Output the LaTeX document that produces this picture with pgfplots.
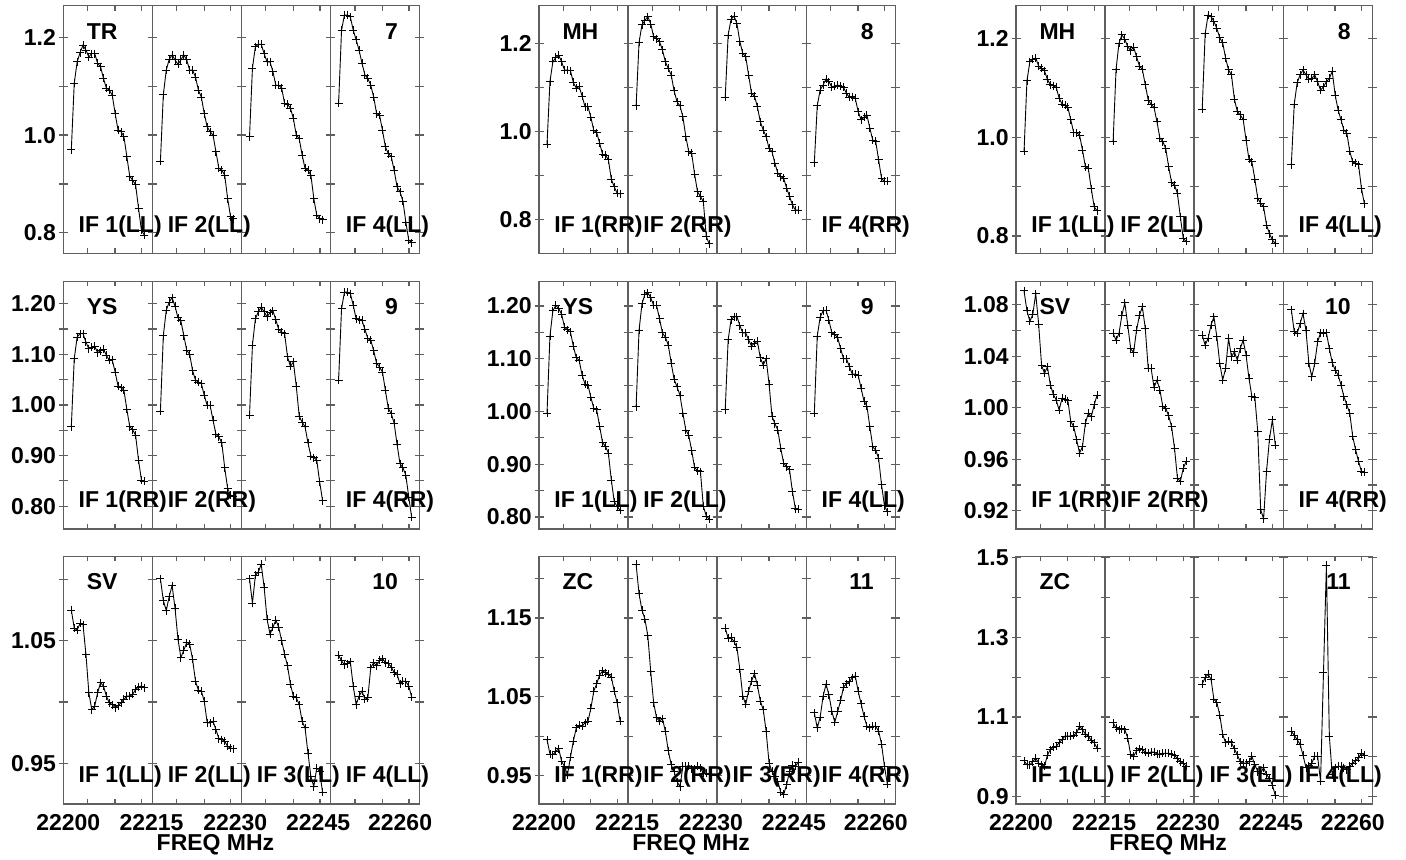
\documentclass[border=0pt]{standalone}
\usepackage{fontspec}
\setmainfont{Liberation Sans}
\usepackage{pgfplots}
\pgfplotsset{compat=1.18}
\definecolor{framec}{RGB}{95,95,95}
\newcommand\ff{\fontsize{11.5}{13}\selectfont\bfseries}
\newcommand\IF[2]{\addplot[black,line width=0.45pt,mark=+,mark size=2pt,mark options={line width=0.45pt}] table[header=false,row sep=\\,x expr={#1+0.09+0.0328*\coordindex},y index=0]{#2};}
\newcommand\frameticks[1]{%
 \draw[framec,line width=0.75pt] (rel axis cs:0.25,0) -- (rel axis cs:0.25,1) (rel axis cs:0.5,0) -- (rel axis cs:0.5,1) (rel axis cs:0.75,0) -- (rel axis cs:0.75,1);
 \pgfplotsforeachungrouped \yy in {#1}{%
  \pgfplotsforeachungrouped \xx in {0,1,2,3,4}{%
   \edef\tmp{\noexpand\draw[framec,line width=0.6pt] (axis cs:\xx,\yy) ++(-2.25pt,0pt) -- ++(4.5pt,0pt);}\tmp}}%
 \pgfplotsforeachungrouped \xx in {0.06825,0.14525,0.22,0.31825,0.39525,0.47,0.56825,0.64525,0.72,0.81825,0.89525,0.97}{%
   \edef\tmp{\noexpand\draw[framec,line width=0.6pt] (rel axis cs:\xx,0) -- ++(0pt,2.5pt) (rel axis cs:\xx,1) -- ++(0pt,-2.5pt);}\tmp}}
\newcommand\labs[3]{%
 \node[font=\ff,anchor=base west,inner sep=0pt] at (axis description cs:0.065,0.865) {#1};
 \node[font=\ff,anchor=base east,inner sep=0pt] at (axis description cs:0.94,0.865) {#2};
 \node[font=\ff,anchor=base west,inner sep=0pt] at (axis description cs:0.042,0.085) {IF 1(#3)};
 \node[font=\ff,anchor=base west,inner sep=0pt] at (axis description cs:0.292,0.085) {IF 2(#3)};
 \node[font=\ff,anchor=base west,inner sep=0pt] at (axis description cs:0.792,0.085) {IF 4(#3)};}
\newcommand\labthree[1]{\node[font=\ff,anchor=base west,inner sep=0pt] at (axis description cs:0.542,0.085) {IF 3(#1)};}
\newcommand\freq{\node[font=\ff,anchor=north,inner sep=0pt] at (axis description cs:0.427,0) [yshift=-15pt] {FREQ MHz};}
\pgfplotsset{panel/.style={scale only axis,width=178.2pt,height=123.8pt,xmin=0,xmax=4,anchor=south west,
  axis line style={framec,line width=0.75pt},tick style={draw=none},xtick=\empty,clip=false,
  tick label style={font=\ff},yticklabel style={anchor=east,inner sep=0pt,xshift=-3.5pt},
  xticklabel style={anchor=north,inner sep=0pt,yshift=-5pt}},
 bottom/.style={extra x ticks={0.056,0.99,1.93,2.86,3.78},extra x tick labels={22200,22215,22230,22245,22260}}}
\begin{document}
\begin{tikzpicture}
\useasboundingbox (0,0) rectangle (703pt,430pt);
% ---------------- Row 1 ----------------
\begin{axis}[panel,at={(31.65pt,303.35pt)},ymin=0.758,ymax=1.265,ytick={0.8,0.9,1.0,1.1,1.2},yticklabels={0.8,,1.0,,1.2}]
\IF{0}{0.97\\1.106\\1.15\\1.169\\1.184\\1.174\\1.16\\1.167\\1.167\\1.147\\1.14\\1.116\\1.096\\1.092\\1.082\\1.044\\1.01\\1.007\\0.997\\0.956\\0.915\\0.908\\0.898\\0.85\\0.805\\0.795\\}
\IF{1}{0.947\\1.083\\1.133\\1.155\\1.164\\1.154\\1.145\\1.154\\1.164\\1.154\\1.133\\1.133\\1.119\\1.092\\1.078\\1.044\\1.017\\1.007\\1.0\\0.966\\0.932\\0.928\\0.918\\0.87\\0.833\\0.829\\}
\IF{2}{0.997\\1.137\\1.181\\1.186\\1.186\\1.167\\1.15\\1.15\\1.13\\1.102\\1.102\\1.096\\1.065\\1.063\\1.055\\1.034\\1.0\\0.993\\0.959\\0.932\\0.928\\0.918\\0.87\\0.836\\0.829\\0.827\\}
\IF{3}{1.065\\1.215\\1.246\\1.246\\1.242\\1.215\\1.195\\1.174\\1.147\\1.123\\1.116\\1.102\\1.078\\1.044\\1.041\\1.01\\0.976\\0.962\\0.956\\0.928\\0.894\\0.884\\0.865\\0.822\\0.785\\0.78\\}
\frameticks{0.8,0.9,1.0,1.1,1.2}
\labs{TR}{7}{LL}
\end{axis}
\begin{axis}[panel,at={(269.5pt,303.35pt)},ymin=0.7227,ymax=1.2856,ytick={0.8,0.9,1.0,1.1,1.2},yticklabels={0.8,,1.0,,1.2}]
\IF{0}{0.971\\1.113\\1.158\\1.168\\1.173\\1.158\\1.139\\1.139\\1.138\\1.111\\1.098\\1.102\\1.08\\1.056\\1.056\\1.032\\1.002\\0.997\\0.973\\0.948\\0.946\\0.935\\0.891\\0.874\\0.859\\0.858\\}
\IF{1}{1.058\\1.202\\1.242\\1.252\\1.261\\1.244\\1.215\\1.211\\1.204\\1.185\\1.158\\1.143\\1.128\\1.092\\1.067\\1.058\\1.033\\0.988\\0.954\\0.95\\0.903\\0.863\\0.852\\0.84\\0.761\\0.744\\}
\IF{2}{1.077\\1.219\\1.255\\1.262\\1.245\\1.204\\1.177\\1.17\\1.128\\1.086\\1.08\\1.056\\1.022\\1.003\\0.988\\0.961\\0.954\\0.927\\0.905\\0.897\\0.893\\0.871\\0.852\\0.833\\0.821\\0.821\\}
\IF{3}{0.929\\1.058\\1.094\\1.105\\1.119\\1.113\\1.1\\1.103\\1.105\\1.103\\1.1\\1.086\\1.077\\1.079\\1.075\\1.045\\1.026\\1.032\\1.037\\1.007\\0.98\\0.977\\0.935\\0.893\\0.886\\0.886\\}
\frameticks{0.8,0.9,1.0,1.1,1.2}
\labs{MH}{8}{RR}
\end{axis}
\begin{axis}[panel,at={(508pt,303.35pt)},ymin=0.765,ymax=1.266,ytick={0.8,0.9,1.0,1.1,1.2},yticklabels={0.8,,1.0,,1.2}]
\IF{0}{0.971\\1.114\\1.153\\1.158\\1.16\\1.144\\1.139\\1.134\\1.117\\1.106\\1.104\\1.101\\1.079\\1.067\\1.065\\1.06\\1.035\\1.009\\1.009\\1.004\\0.974\\0.94\\0.937\\0.896\\0.859\\0.851\\}
\IF{1}{0.992\\1.137\\1.19\\1.207\\1.198\\1.183\\1.175\\1.182\\1.163\\1.144\\1.137\\1.106\\1.075\\1.067\\1.06\\1.031\\0.998\\0.991\\0.977\\0.94\\0.908\\0.903\\0.886\\0.839\\0.795\\0.789\\}
\IF{2}{1.057\\1.209\\1.247\\1.244\\1.234\\1.22\\1.201\\1.191\\1.16\\1.136\\1.126\\1.077\\1.052\\1.045\\1.036\\0.994\\0.955\\0.95\\0.915\\0.876\\0.866\\0.859\\0.822\\0.805\\0.792\\0.785\\}
\IF{3}{0.944\\1.067\\1.11\\1.126\\1.136\\1.126\\1.117\\1.119\\1.126\\1.112\\1.095\\1.102\\1.112\\1.119\\1.133\\1.085\\1.055\\1.035\\1.014\\1.008\\0.971\\0.95\\0.947\\0.944\\0.896\\0.865\\}
\frameticks{0.8,0.9,1.0,1.1,1.2}
\labs{MH}{8}{LL}
\end{axis}
% ---------------- Row 2 ----------------
\begin{axis}[panel,at={(31.65pt,165.5pt)},ymin=0.755,ymax=1.244,ytick={0.80,0.85,0.90,0.95,1.00,1.05,1.10,1.15,1.20},yticklabels={0.80,,0.90,,1.00,,1.10,,1.20}]
\IF{0}{0.957\\1.091\\1.134\\1.141\\1.141\\1.124\\1.111\\1.114\\1.116\\1.103\\1.107\\1.11\\1.098\\1.088\\1.089\\1.065\\1.037\\1.034\\1.029\\0.991\\0.957\\0.951\\0.94\\0.891\\0.851\\0.849\\}
\IF{1}{0.988\\1.137\\1.187\\1.203\\1.212\\1.195\\1.172\\1.166\\1.137\\1.108\\1.1\\1.068\\1.049\\1.045\\1.042\\1.019\\0.999\\0.999\\0.97\\0.942\\0.937\\0.925\\0.876\\0.835\\0.822\\0.82\\}
\IF{2}{0.98\\1.118\\1.17\\1.184\\1.193\\1.184\\1.174\\1.182\\1.186\\1.168\\1.149\\1.144\\1.141\\1.095\\1.076\\1.085\\1.037\\0.978\\0.966\\0.957\\0.925\\0.899\\0.896\\0.891\\0.848\\0.811\\}
\IF{3}{1.049\\1.19\\1.223\\1.223\\1.22\\1.197\\1.17\\1.168\\1.167\\1.149\\1.131\\1.128\\1.107\\1.082\\1.075\\1.065\\1.029\\0.993\\0.983\\0.964\\0.922\\0.884\\0.876\\0.861\\0.818\\0.778\\}
\frameticks{0.80,0.85,0.90,0.95,1.00,1.05,1.10,1.15,1.20}
\labs{YS}{9}{RR}
\end{axis}
\begin{axis}[panel,at={(269.5pt,165.5pt)},ymin=0.7773,ymax=1.2467,ytick={0.80,0.85,0.90,0.95,1.00,1.05,1.10,1.15,1.20},yticklabels={0.80,,0.90,,1.00,,1.10,,1.20}]
\IF{0}{0.997\\1.143\\1.191\\1.201\\1.195\\1.184\\1.16\\1.155\\1.151\\1.124\\1.102\\1.097\\1.069\\1.052\\1.05\\1.027\\1.006\\1.003\\0.972\\0.941\\0.934\\0.921\\0.87\\0.829\\0.82\\0.813\\}
\IF{1}{1.009\\1.154\\1.204\\1.222\\1.225\\1.216\\1.201\\1.201\\1.176\\1.149\\1.141\\1.126\\1.092\\1.061\\1.047\\1.031\\0.997\\0.965\\0.955\\0.926\\0.894\\0.888\\0.886\\0.82\\0.802\\0.796\\}
\IF{2}{1.003\\1.136\\1.174\\1.18\\1.18\\1.163\\1.149\\1.149\\1.136\\1.124\\1.13\\1.133\\1.102\\1.088\\1.1\\1.052\\0.991\\0.977\\0.965\\0.93\\0.902\\0.895\\0.89\\0.848\\0.816\\0.815\\}
\IF{3}{0.997\\1.143\\1.179\\1.191\\1.192\\1.173\\1.149\\1.146\\1.14\\1.119\\1.1\\1.1\\1.085\\1.071\\1.071\\1.069\\1.044\\1.02\\1.01\\0.971\\0.933\\0.927\\0.911\\0.861\\0.821\\0.81\\}
\frameticks{0.80,0.85,0.90,0.95,1.00,1.05,1.10,1.15,1.20}
\labs{YS}{9}{LL}
\end{axis}
\begin{axis}[panel,at={(508pt,165.5pt)},ymin=0.9058,ymax=1.098,ytick={0.92,0.94,0.96,0.98,1.00,1.02,1.04,1.06,1.08},yticklabels={0.92,,0.96,,1.00,,1.04,,1.08}]
\IF{0}{1.0906\\1.0751\\1.0671\\1.0723\\1.0885\\1.0648\\1.033\\1.0266\\1.0317\\1.0176\\1.0106\\1.0059\\0.9982\\1.0072\\1.0064\\1.0054\\0.9892\\0.9853\\0.975\\0.9647\\0.9698\\0.9879\\0.9956\\0.993\\1.0021\\1.0098\\}
\IF{1}{1.0576\\1.0524\\1.0576\\1.0717\\1.0813\\1.064\\1.0459\\1.0426\\1.0601\\1.0717\\1.0782\\1.0614\\1.0304\\1.0304\\1.0157\\1.0214\\1.0137\\1.0008\\0.9995\\0.9936\\0.9853\\0.9685\\0.9453\\0.9427\\0.953\\0.9582\\}
\IF{2}{1.0563\\1.0485\\1.0537\\1.064\\1.0705\\1.055\\1.0343\\1.0214\\1.0304\\1.0537\\1.0395\\1.0434\\1.0369\\1.0459\\1.0524\\1.0408\\1.0227\\1.0085\\1.008\\0.9814\\0.9208\\0.9136\\0.9504\\0.9755\\0.9905\\0.971\\}
\IF{3}{1.0761\\1.0588\\1.0576\\1.0653\\1.073\\1.0601\\1.0343\\1.024\\1.0343\\1.0511\\1.0581\\1.0576\\1.0581\\1.0459\\1.0348\\1.0292\\1.0253\\1.0176\\1.0085\\1.0021\\0.9956\\0.9776\\0.9672\\0.9582\\0.9504\\0.9497\\}
\frameticks{0.92,0.94,0.96,0.98,1.00,1.02,1.04,1.06,1.08}
\labs{SV}{10}{RR}
\end{axis}
% ---------------- Row 3 ----------------
\begin{axis}[panel,bottom,at={(31.65pt,28pt)},ymin=0.9166,ymax=1.119,ytick={0.95,1.00,1.05,1.10},yticklabels={0.95,,1.05,}]
\IF{0}{1.0752\\1.0604\\1.0588\\1.0642\\1.0632\\1.039\\1.0075\\0.9938\\0.9966\\1.0075\\1.0158\\1.013\\1.0048\\0.9993\\0.9979\\0.9952\\0.9971\\0.9993\\1.0021\\1.0048\\1.0048\\1.0062\\1.0103\\1.0122\\1.013\\1.0116\\}
\IF{1}{1.1007\\1.0829\\1.0747\\1.0862\\1.0952\\1.0766\\1.0514\\1.0363\\1.0423\\1.0486\\1.0473\\1.0349\\1.0171\\1.0095\\1.0089\\1.0007\\0.9829\\0.9829\\0.9842\\0.9774\\0.97\\0.9692\\0.9678\\0.9637\\0.9623\\0.9618\\}
\IF{2}{1.1007\\1.0807\\1.1034\\1.1062\\1.1125\\1.0938\\1.0678\\1.0555\\1.0609\\1.067\\1.0609\\1.05\\1.039\\1.0295\\1.0144\\1.0048\\1.0034\\0.9979\\0.9842\\0.9788\\0.9582\\0.939\\0.9308\\0.9459\\0.9432\\0.926\\}
\IF{3}{1.0382\\1.0336\\1.0303\\1.0314\\1.033\\1.013\\0.9979\\1.0048\\1.0089\\1.0021\\1.0034\\1.0281\\1.0322\\1.0295\\1.0341\\1.0355\\1.0322\\1.0314\\1.0286\\1.024\\1.0226\\1.0149\\1.0171\\1.0166\\1.013\\1.004\\}
\frameticks{0.95,1.00,1.05,1.10}
\labs{SV}{10}{LL}\labthree{LL}\freq
\end{axis}
\begin{axis}[panel,bottom,at={(269.5pt,28pt)},ymin=0.9138,ymax=1.2283,ytick={0.95,1.00,1.05,1.10,1.15,1.20},yticklabels={0.95,,1.05,,1.15,}]
\IF{0}{0.9955\\0.9772\\0.9764\\0.9806\\0.984\\0.9679\\0.9615\\0.9509\\0.973\\0.9934\\1.0104\\1.0138\\1.0126\\1.0168\\1.0189\\1.0351\\1.0572\\1.0666\\1.0777\\1.0828\\1.0806\\1.0785\\1.0751\\1.0572\\1.0423\\1.0189\\}
\IF{1}{1.2181\\1.1806\\1.1602\\1.1487\\1.1274\\1.0819\\1.0423\\1.0232\\1.0189\\1.0223\\1.0062\\0.9815\\0.9636\\0.9551\\0.9423\\0.9359\\0.9615\\0.9615\\0.9615\\0.9585\\0.9585\\0.9615\\0.9594\\0.953\\0.953\\0.9517\\}
\IF{2}{1.1372\\1.1245\\1.1253\\1.1202\\1.1126\\1.0849\\1.0509\\1.0402\\1.0572\\1.07\\1.0794\\1.0649\\1.0445\\1.0338\\1.0062\\0.9657\\0.9551\\0.9487\\0.9423\\0.9287\\0.9262\\0.9381\\0.9551\\0.9628\\0.9615\\0.967\\}
\IF{3}{1.0296\\1.0104\\1.024\\1.0509\\1.0657\\1.0526\\1.0313\\1.0177\\1.0313\\1.0453\\1.0623\\1.0666\\1.0691\\1.0743\\1.0764\\1.0572\\1.0411\\1.0253\\1.0126\\1.0104\\1.0126\\1.0126\\1.0062\\0.99\\0.9615\\0.9389\\}
\frameticks{0.95,1.00,1.05,1.10,1.15,1.20}
\labs{ZC}{11}{RR}\labthree{RR}\freq
\end{axis}
\begin{axis}[panel,bottom,at={(508pt,28pt)},ymin=0.8815,ymax=1.503,ytick={0.9,1.0,1.1,1.2,1.3,1.4,1.5},yticklabels={0.9,,1.1,,1.3,,1.5}]
\IF{0}{0.99\\0.98\\0.98\\0.988\\0.997\\0.984\\0.98\\0.976\\1.004\\1.018\\1.024\\1.026\\1.035\\1.043\\1.052\\1.052\\1.052\\1.054\\1.06\\1.077\\1.068\\1.057\\1.052\\1.041\\1.035\\1.022\\}
\IF{1}{1.085\\1.073\\1.068\\1.071\\1.068\\1.047\\1.005\\1.001\\1.015\\1.02\\1.018\\1.012\\1.009\\1.012\\1.012\\1.007\\1.007\\1.009\\1.009\\1.009\\1.007\\1.004\\0.995\\0.988\\0.984\\0.976\\}
\IF{2}{1.182\\1.199\\1.207\\1.195\\1.144\\1.136\\1.105\\1.056\\1.035\\1.039\\1.035\\1.02\\1.005\\0.988\\0.984\\0.984\\0.988\\1.001\\0.98\\0.963\\0.959\\0.973\\0.955\\0.946\\0.929\\0.903\\}
\IF{3}{1.064\\1.054\\1.043\\1.031\\1.004\\0.973\\0.978\\0.984\\1.001\\1.001\\0.938\\1.211\\1.481\\1.052\\0.955\\0.972\\0.976\\0.976\\0.973\\0.967\\0.976\\0.984\\0.99\\0.998\\1.009\\1.004\\}
\frameticks{0.9,1.0,1.1,1.2,1.3,1.4,1.5}
\labs{ZC}{11}{LL}\labthree{LL}\freq
\end{axis}
\end{tikzpicture}
\end{document}
